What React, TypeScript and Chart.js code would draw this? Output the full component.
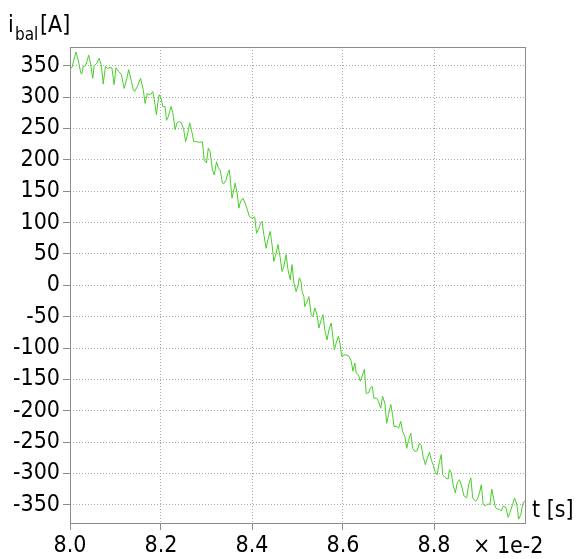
import React, { useEffect, useRef } from "react";
import { Chart, registerables } from "chart.js";

Chart.register(...registerables);

// time axis values (units of 1e-2 s)
const T: number[] = [
  8.000, 8.004, 8.013, 8.018, 8.024, 8.026, 8.029, 8.034, 8.038, 8.041,
  8.045, 8.050, 8.053, 8.059, 8.064, 8.069, 8.073, 8.078, 8.082, 8.088,
  8.092, 8.097, 8.101, 8.107, 8.113, 8.119, 8.125, 8.129, 8.135, 8.139,
  8.142, 8.148, 8.155, 8.161, 8.165, 8.170, 8.174, 8.178, 8.182, 8.187,
  8.190, 8.193, 8.196, 8.200, 8.204, 8.209, 8.212, 8.216, 8.222, 8.226,
  8.231, 8.235, 8.240, 8.245, 8.250, 8.254, 8.259, 8.263, 8.267, 8.272,
  8.278, 8.285, 8.291, 8.295, 8.300, 8.304, 8.308, 8.313, 8.317, 8.322,
  8.326, 8.330, 8.335, 8.338, 8.343, 8.347, 8.350, 8.353, 8.356, 8.360,
  8.363, 8.368, 8.371, 8.375, 8.380, 8.385, 8.390, 8.394, 8.400, 8.406,
  8.410, 8.415, 8.419, 8.422, 8.426, 8.431, 8.435, 8.440, 8.444, 8.448,
  8.453, 8.457, 8.462, 8.466, 8.470, 8.475, 8.479, 8.484, 8.488, 8.492,
  8.497, 8.501, 8.504, 8.508, 8.510, 8.514, 8.516, 8.521, 8.525, 8.530,
  8.534, 8.538, 8.543, 8.547, 8.552, 8.556, 8.560, 8.565, 8.569, 8.574,
  8.578, 8.581, 8.585, 8.590, 8.594, 8.597, 8.602, 8.607, 8.613, 8.618,
  8.622, 8.626, 8.629, 8.634, 8.638, 8.642, 8.647, 8.651, 8.656, 8.660,
  8.664, 8.668, 8.674, 8.678, 8.683, 8.687, 8.692, 8.696, 8.700, 8.705,
  8.709, 8.712, 8.718, 8.722, 8.727, 8.731, 8.736, 8.740, 8.744, 8.749,
  8.753, 8.758, 8.763, 8.768, 8.772, 8.776, 8.781, 8.785, 8.790, 8.794,
  8.798, 8.803, 8.807, 8.812, 8.816, 8.819, 8.824, 8.826, 8.831, 8.834,
  8.838, 8.842, 8.847, 8.851, 8.856, 8.860, 8.866, 8.872, 8.876, 8.881,
  8.885, 8.891, 8.895, 8.900, 8.904, 8.908, 8.913, 8.917, 8.923, 8.927,
  8.930, 8.935, 8.939, 8.944, 8.948, 8.952, 8.958, 8.963, 8.967, 8.973,
  8.977, 8.982, 8.986, 8.991, 8.995, 8.999, 9.000,
];

// i_bal current values [A]
const I_BAL: number[] = [
  345, 347, 372, 359, 338, 337, 349, 350, 359, 367,
  354, 330, 350, 354, 362, 350, 321, 349, 346, 347,
  347, 320, 347, 341, 336, 314, 330, 344, 325, 312,
  309, 317, 330, 312, 290, 306, 304, 305, 309, 288,
  272, 291, 304, 299, 285, 285, 263, 269, 285, 275,
  248, 259, 261, 259, 248, 229, 243, 259, 248, 229,
  229, 228, 229, 200, 195, 219, 213, 184, 176, 197,
  187, 184, 163, 162, 168, 179, 184, 163, 139, 152,
  163, 144, 123, 134, 139, 131, 120, 110, 107, 109,
  83, 91, 99, 102, 81, 59, 73, 86, 65, 38,
  51, 65, 44, 22, 30, 49, 25, 9, 33, 4,
  -10, 0, 12, 5, -10, -18, -34, -26, -18, -47,
  -50, -36, -47, -68, -55, -47, -71, -87, -71, -60,
  -84, -103, -92, -81, -95, -113, -111, -111, -113, -121,
  -137, -124, -140, -143, -153, -145, -134, -172, -172, -164,
  -161, -180, -180, -185, -196, -177, -188, -220, -206, -190,
  -206, -225, -225, -228, -217, -233, -241, -260, -247, -236,
  -260, -265, -264, -252, -255, -273, -286, -276, -266, -278,
  -286, -299, -302, -281, -270, -302, -306, -307, -309, -294,
  -299, -318, -331, -315, -310, -318, -336, -339, -318, -307,
  -339, -344, -342, -331, -318, -349, -352, -349, -349, -325,
  -336, -354, -357, -357, -360, -352, -354, -370, -362, -349,
  -339, -349, -373, -365, -349, -344, -343,
];

const X_TICKS: number[] = [8.0, 8.2, 8.4, 8.6, 8.8];
const Y_TICKS: number[] = [350, 300, 250, 200, 150, 100, 50, 0, -50, -100, -150, -200, -250, -300, -350];

const FONT = '"DejaVu Sans Condensed", "DejaVu Sans", "Noto Sans", sans-serif';

export default function App() {
  const ref = useRef<HTMLCanvasElement | null>(null);

  useEffect(() => {
    if (!ref.current) return;
    const textPlugin = {
      id: "texts",
      afterDraw(chart: any) {
        const ctx = chart.ctx as CanvasRenderingContext2D;
        const a = chart.chartArea;
        ctx.save();
        ctx.strokeStyle = "#8c8c8c";
        ctx.lineWidth = 1;
        ctx.setLineDash([]);
        ctx.strokeRect(Math.round(a.left) + 0.5, Math.round(a.top) + 0.5, Math.round(a.right - a.left), Math.round(a.bottom - a.top));
        ctx.fillStyle = "#000";
        ctx.textAlign = "left";
        ctx.textBaseline = "alphabetic";
        ctx.font = `23px ${FONT}`;
        ctx.fillText("i", 8, 31.5);
        ctx.font = `17px ${FONT}`;
        ctx.fillText("bal", 15, 39.5);
        ctx.font = `23px ${FONT}`;
        ctx.fillText("[A]", 40, 31.5);
        ctx.fillText("t [s]", 532, 517);
        ctx.fillText("\u00d7 1e-2", 473, 553);
        ctx.restore();
      },
    };

    const chart = new Chart(ref.current, {
      type: "line",
      data: {
        datasets: [
          {
            data: T.map((t, i) => ({ x: t, y: I_BAL[i] })),
            borderColor: "rgb(72, 206, 42)",
            borderWidth: 1,
            pointRadius: 0,
            tension: 0,
            fill: false,
          },
        ],
      },
      options: {
        animation: false,
        responsive: false,
        events: [],
        layout: { padding: { top: 47, right: 56, left: 0, bottom: 0 } },
        plugins: { legend: { display: false }, tooltip: { enabled: false } },
        scales: {
          x: {
            type: "linear",
            min: 8.0,
            max: 9.0,
            afterFit: (s: any) => { s.height = 36; },
            afterBuildTicks: (s: any) => { s.ticks = X_TICKS.map((v) => ({ value: v })); },
            ticks: {
              autoSkip: false,
              maxRotation: 0,
              padding: 2,
              color: "#000",
              font: { family: FONT, size: 23 },
              callback: (v: any) => Number(v).toFixed(1),
            },
            grid: {
              color: "#a8a8a8",
              tickColor: "#8c8c8c",
              tickLength: 7,
              lineWidth: 1,
            },
            border: { display: false, dash: [1, 2] },
          },
          y: {
            type: "linear",
            min: -379,
            max: 380,
            afterFit: (s: any) => { s.width = 70; },
            afterBuildTicks: (s: any) => { s.ticks = Y_TICKS.map((v) => ({ value: v })); },
            ticks: {
              autoSkip: false,
              padding: 3,
              color: "#000",
              font: { family: FONT, size: 23 },
              callback: (v: any) => String(v),
            },
            grid: {
              color: "#a8a8a8",
              tickColor: "#8c8c8c",
              tickLength: 7,
              lineWidth: 1,
            },
            border: { display: false, dash: [1, 2] },
          },
        },
      },
      plugins: [textPlugin],
    } as any);
    return () => chart.destroy();
  }, []);

  return (
    <div style={{ position: "fixed", left: 0, top: 0, width: 581, height: 559, background: "#fff" }}>
      <canvas ref={ref} width={581} height={559} style={{ display: "block", width: 581, height: 559 }} />
    </div>
  );
}
